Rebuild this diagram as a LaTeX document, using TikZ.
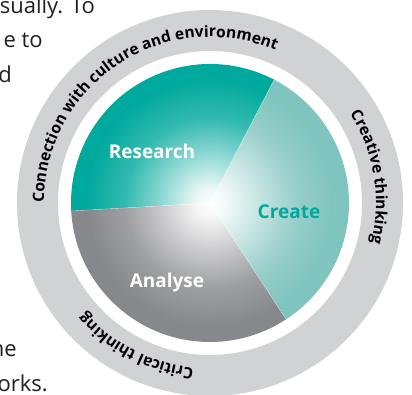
\documentclass[tikz,border=0pt]{standalone}
\usepackage{fontspec}
\setmainfont{Open Sans}
\usetikzlibrary{decorations.text,fadings}
\definecolor{researchteal}{HTML}{00A99D}
\definecolor{createteal}{HTML}{7FC4BE}
\definecolor{analysegray}{HTML}{87888C}
\definecolor{ringgray}{HTML}{D1D2D4}
\definecolor{bodytext}{HTML}{231F20}

% white glow in the middle of the wheel (white = opaque, black = clear)
\pgfdeclareradialshading{glowshade}{\pgfpoint{0bp}{0bp}}{color(0bp)=(white); color(3bp)=(white!92!black);
  color(10bp)=(white!55!black); color(17bp)=(white!20!black); color(25bp)=(black); color(50bp)=(black)}
\pgfdeclarefading{glowfade}{\pgfuseshading{glowshade}}

\begin{document}
\begin{tikzpicture}[x=1pt, y=1pt,
  sector label/.style={font=\fontsize{19}{19}\selectfont\bfseries},
  body text/.style={anchor=base east, inner sep=0pt, text=bodytext, font=\fontsize{22}{22}\selectfont},
  ring text/.style={decorate, decoration={text along path, text align=center,
    text={|\fontsize{15.6}{15.6}\selectfont\bfseries|#1}}}]

\useasboundingbox (-210,-192) rectangle (202,203);
\coordinate (O) at (0,0);

% cut-off lines of the running text on the left
\node[body text] (line1) at (-115,189) {sually. To};
\node[body text] (line2) at (-167,155) {e to};
\node[body text] (line3) at (-198,120) {d};
\node[body text] (line4) at (-193,-154) {he};
\node[body text] (line5) at (-162,-189) {orks.};

% grey ring
\fill[ringgray, even odd rule] (O) circle[radius=193] (O) circle[radius=152];

% three sectors
\foreach \from/\to/\col in {62.5/183.3/researchteal, 183.3/303.2/analysegray, 303.2/422.5/createteal}
  \fill[\col] (O) -- (\from:139) arc[start angle=\from, end angle=\to, radius=139] -- cycle;
% faint seams between sectors
\foreach \a in {62.5,183.3,303.2}
  \draw[white, opacity=0.45, line width=0.4] (O) -- (\a:139);
% glow towards the centre
\fill[white, path fading=glowfade] (O) circle[radius=124];

% sector labels
\node[sector label, text=white] (research) at (-58,52) {Research};
\node[sector label, text=researchteal] (create) at (79,-9) {Create};
\node[sector label, text=white] (analyse) at (-43,-80) {Analyse};

% ring labels, all running clockwise
\path[ring text={Connection with culture and environment}] (203.3:166) arc[start angle=203.3, end angle=43.3, radius=166];
\path[ring text={Creative thinking}] (49.3:166) arc[start angle=49.3, end angle=-30.7, radius=166];
\path[ring text={Critical thinking}] (282.8:166) arc[start angle=282.8, end angle=202.8, radius=166];

\end{tikzpicture}
\end{document}
